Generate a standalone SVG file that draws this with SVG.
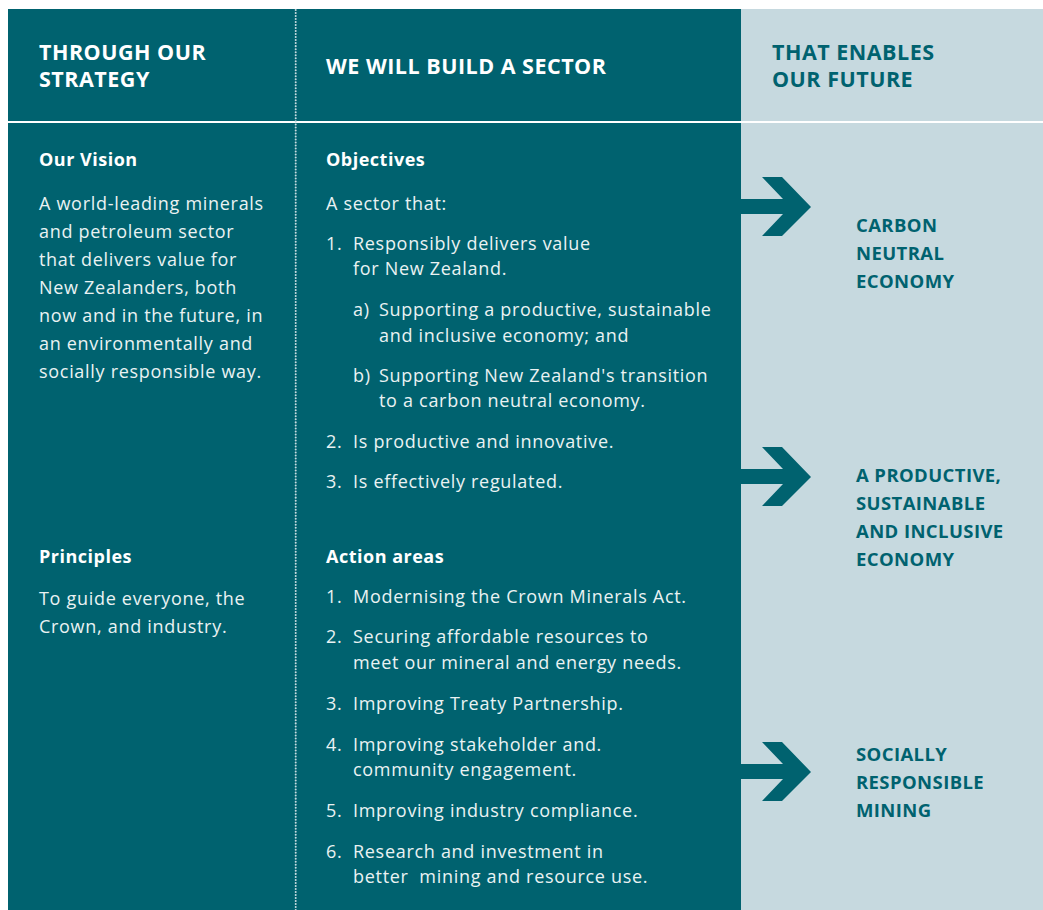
<svg xmlns="http://www.w3.org/2000/svg" width="1043" height="910" viewBox="0 0 1043 910">
<defs>
<style>
.hd{font-family:"Open Sans","Liberation Sans",sans-serif;font-weight:700;font-size:21.5px;letter-spacing:0.5px;fill:#ffffff}
.hdr{font-family:"Open Sans","Liberation Sans",sans-serif;font-weight:700;font-size:21.5px;letter-spacing:0.5px;fill:#00626f}
.lb{font-family:"Open Sans","Liberation Sans",sans-serif;font-weight:700;font-size:18px;letter-spacing:0.5px;fill:#ffffff}
.tx{font-family:"Open Sans","Liberation Sans",sans-serif;font-size:18px;letter-spacing:0.7px;fill:#eaf2f3}
.out{font-family:"Open Sans","Liberation Sans",sans-serif;font-weight:700;font-size:18.5px;letter-spacing:0.4px;fill:#00626f}
.arr{fill:#00626f}
</style>
<path id="chev" d="M0,0 L42,0 L21,-22 L41,-22 L70,8 L41,37 L21,37 L42,15 L0,15 Z"/>
</defs>
<rect x="0" y="0" width="1043" height="910" fill="#ffffff"/>
<g id="backgrounds">
<rect x="8" y="9" width="733" height="901" fill="#00626f"/>
<rect x="741" y="9" width="302" height="901" fill="#c6d9df"/>
<rect x="8" y="121" width="1035" height="2" fill="#ffffff"/>
<line x1="295.7" y1="10" x2="295.7" y2="910" stroke="#c8dbe0" stroke-width="2" stroke-linecap="round" stroke-dasharray="0.01 3"/>
</g>
<g id="header-strategy">
<text class="hd" x="39" y="60">THROUGH OUR</text>
<text class="hd" x="39" y="87">STRATEGY</text>
</g>
<g id="header-sector">
<text class="hd" x="326" y="74">WE WILL BUILD A SECTOR</text>
</g>
<g id="header-future">
<text class="hdr" x="772" y="60">THAT ENABLES</text>
<text class="hdr" x="772" y="87">OUR FUTURE</text>
</g>
<g id="vision">
<text class="lb" x="39" y="166">Our Vision</text>
<text class="tx" x="39" y="210">A world-leading minerals</text>
<text class="tx" x="39" y="238">and petroleum sector</text>
<text class="tx" x="39" y="266">that delivers value for</text>
<text class="tx" x="39" y="294">New Zealanders, both</text>
<text class="tx" x="39" y="322">now and in the future, in</text>
<text class="tx" x="39" y="350">an environmentally and</text>
<text class="tx" x="39" y="378">socially responsible way.</text>
</g>
<g id="principles">
<text class="lb" x="39" y="563">Principles</text>
<text class="tx" x="39" y="605">To guide everyone, the</text>
<text class="tx" x="39" y="633">Crown, and industry.</text>
</g>
<g id="objectives">
<text class="lb" x="326" y="166">Objectives</text>
<text class="tx" x="326" y="210">A sector that:</text>
<text class="tx" x="326" y="250">1.</text>
<text class="tx" x="353" y="250">Responsibly delivers value</text>
<text class="tx" x="353" y="275">for New Zealand.</text>
<text class="tx" x="353" y="316">a)</text>
<text class="tx" x="379" y="316">Supporting a productive, sustainable</text>
<text class="tx" x="379" y="342">and inclusive economy; and</text>
<text class="tx" x="353" y="382">b)</text>
<text class="tx" x="379" y="382">Supporting New Zealand's transition</text>
<text class="tx" x="379" y="407">to a carbon neutral economy.</text>
<text class="tx" x="326" y="448">2.</text>
<text class="tx" x="353" y="448">Is productive and innovative.</text>
<text class="tx" x="326" y="488">3.</text>
<text class="tx" x="353" y="488">Is effectively regulated.</text>
</g>
<g id="action-areas">
<text class="lb" x="326" y="563">Action areas</text>
<text class="tx" x="326" y="603">1.</text>
<text class="tx" x="353" y="603">Modernising the Crown Minerals Act.</text>
<text class="tx" x="326" y="643">2.</text>
<text class="tx" x="353" y="643">Securing affordable resources to</text>
<text class="tx" x="353" y="669">meet our mineral and energy needs.</text>
<text class="tx" x="326" y="710">3.</text>
<text class="tx" x="353" y="710">Improving Treaty Partnership.</text>
<text class="tx" x="326" y="751">4.</text>
<text class="tx" x="353" y="751">Improving stakeholder and.</text>
<text class="tx" x="353" y="776">community engagement.</text>
<text class="tx" x="326" y="817">5.</text>
<text class="tx" x="353" y="817">Improving industry compliance.</text>
<text class="tx" x="326" y="858">6.</text>
<text class="tx" x="353" y="858">Research and investment in</text>
<text class="tx" x="353" y="883" xml:space="preserve">better  mining and resource use.</text>
</g>
<g id="connectors">
<use href="#chev" class="arr" x="741" y="199"/>
<use href="#chev" class="arr" x="741" y="469"/>
<use href="#chev" class="arr" x="741" y="764"/>
</g>
<g id="outcome-carbon">
<text class="out" x="856" y="232">CARBON</text>
<text class="out" x="856" y="260">NEUTRAL</text>
<text class="out" x="856" y="288">ECONOMY</text>
</g>
<g id="outcome-productive">
<text class="out" x="856" y="482">A PRODUCTIVE,</text>
<text class="out" x="856" y="510">SUSTAINABLE</text>
<text class="out" x="856" y="538">AND INCLUSIVE</text>
<text class="out" x="856" y="566">ECONOMY</text>
</g>
<g id="outcome-social">
<text class="out" x="856" y="761">SOCIALLY</text>
<text class="out" x="856" y="789">RESPONSIBLE</text>
<text class="out" x="856" y="817">MINING</text>
</g>
</svg>
